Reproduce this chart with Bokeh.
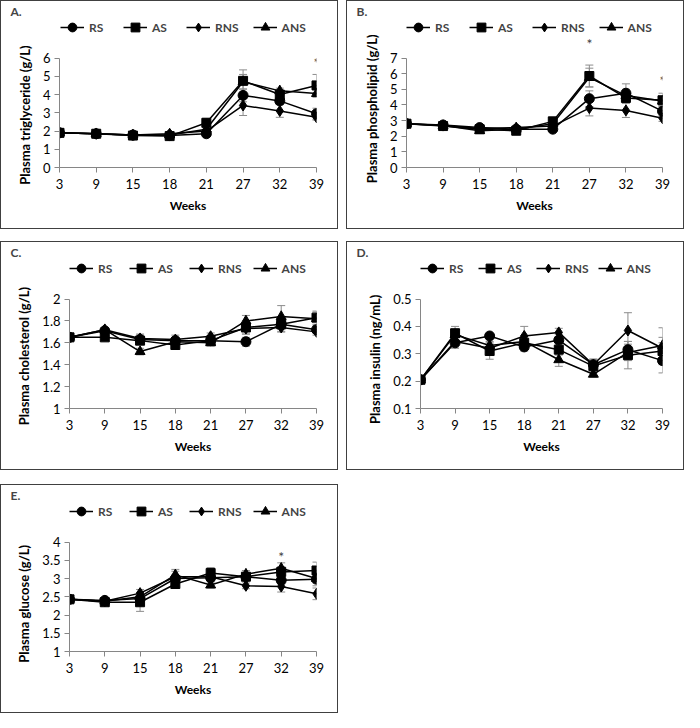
from bokeh.plotting import figure
from bokeh.models import (Range1d, FixedTicker, Whisker, ColumnDataSource, Legend,
                          LegendItem, Label, NumeralTickFormatter, TeeHead, Spacer)
from bokeh.layouts import row, column
from bokeh.embed import file_html
from bokeh.resources import INLINE

weeks = ["3", "9", "15", "18", "21", "27", "32", "39"]
series = ["RS", "AS", "RNS", "ANS"]

# A. Plasma triglyceride (g/L)
tg_RS = [1.90, 1.85, 1.78, 1.75, 1.85, 3.95, 3.65, 2.95]
tg_AS = [1.90, 1.85, 1.75, 1.72, 2.45, 4.75, 4.00, 4.50]
tg_RNS = [1.90, 1.85, 1.78, 1.85, 2.00, 3.40, 3.10, 2.75]
tg_ANS = [1.90, 1.85, 1.78, 1.78, 2.10, 4.70, 4.20, 4.05]
tg_RS_err = [0.05, 0.05, 0.05, 0.05, 0.08, 0.35, 0.20, 0.30]
tg_AS_err = [0.05, 0.05, 0.05, 0.05, 0.25, 0.60, 0.20, 0.60]
tg_RNS_err = [0.05, 0.05, 0.05, 0.05, 0.10, 0.55, 0.35, 0.15]
tg_ANS_err = [0.05, 0.05, 0.05, 0.05, 0.15, 0.40, 0.15, 0.20]

# B. Plasma phospholipid (g/L)
pl_RS = [2.80, 2.72, 2.55, 2.45, 2.45, 4.40, 4.75, 3.60]
pl_AS = [2.80, 2.65, 2.45, 2.35, 2.95, 5.85, 4.45, 4.30]
pl_RNS = [2.80, 2.68, 2.50, 2.55, 2.65, 3.80, 3.65, 3.15]
pl_ANS = [2.80, 2.68, 2.35, 2.45, 2.80, 5.75, 4.60, 4.25]
pl_RS_err = [0.05, 0.05, 0.10, 0.10, 0.10, 0.50, 0.60, 0.30]
pl_AS_err = [0.05, 0.05, 0.10, 0.10, 0.25, 0.70, 0.30, 0.45]
pl_RNS_err = [0.05, 0.05, 0.10, 0.10, 0.10, 0.50, 0.45, 0.20]
pl_ANS_err = [0.05, 0.05, 0.15, 0.10, 0.20, 0.60, 0.40, 0.30]

# C. Plasma cholesterol (g/L)
ch_RS = [1.65, 1.71, 1.63, 1.62, 1.62, 1.61, 1.77, 1.72]
ch_AS = [1.65, 1.65, 1.62, 1.58, 1.62, 1.74, 1.77, 1.83]
ch_RNS = [1.65, 1.72, 1.64, 1.63, 1.66, 1.73, 1.74, 1.70]
ch_ANS = [1.65, 1.72, 1.52, 1.61, 1.60, 1.80, 1.84, 1.82]
ch_RS_err = [0.02, 0.02, 0.04, 0.03, 0.03, 0.04, 0.05, 0.03]
ch_AS_err = [0.02, 0.02, 0.03, 0.02, 0.02, 0.06, 0.07, 0.06]
ch_RNS_err = [0.02, 0.02, 0.04, 0.04, 0.03, 0.05, 0.04, 0.03]
ch_ANS_err = [0.02, 0.02, 0.03, 0.03, 0.03, 0.05, 0.10, 0.06]

# D. Plasma insulin (ng/mL)
in_RS = [0.205, 0.340, 0.365, 0.325, 0.350, 0.260, 0.315, 0.275]
in_AS = [0.205, 0.375, 0.310, 0.340, 0.315, 0.255, 0.295, 0.310]
in_RNS = [0.205, 0.345, 0.320, 0.365, 0.378, 0.260, 0.385, 0.320]
in_ANS = [0.205, 0.370, 0.330, 0.345, 0.278, 0.225, 0.305, 0.330]
in_RS_err = [0.005, 0.020, 0.010, 0.015, 0.020, 0.020, 0.030, 0.045]
in_AS_err = [0.005, 0.025, 0.030, 0.020, 0.020, 0.025, 0.050, 0.050]
in_RNS_err = [0.005, 0.020, 0.015, 0.035, 0.015, 0.020, 0.065, 0.020]
in_ANS_err = [0.005, 0.020, 0.015, 0.020, 0.024, 0.010, 0.030, 0.065]

# E. Plasma glucose (g/L)
gl_RS = [2.43, 2.40, 2.45, 3.00, 3.02, 3.05, 2.95, 2.98]
gl_AS = [2.43, 2.35, 2.35, 2.85, 3.15, 3.05, 3.18, 3.22]
gl_RNS = [2.43, 2.38, 2.60, 3.05, 3.05, 2.80, 2.78, 2.58]
gl_ANS = [2.43, 2.38, 2.50, 3.10, 2.82, 3.12, 3.28, 3.00]
gl_RS_err = [0.03, 0.03, 0.10, 0.10, 0.10, 0.08, 0.10, 0.10]
gl_AS_err = [0.03, 0.03, 0.25, 0.10, 0.15, 0.10, 0.15, 0.23]
gl_RNS_err = [0.03, 0.03, 0.10, 0.15, 0.10, 0.08, 0.15, 0.16]
gl_ANS_err = [0.03, 0.03, 0.12, 0.15, 0.08, 0.10, 0.15, 0.20]

markers = {"RS": ("circle", 10), "AS": ("square", 9), "RNS": ("diamond", 11), "ANS": ("triangle", 10)}
FONT = "Lato"
AX = "#868686"
NBSP = "\u00a0"


def make_panel(tag, ylabel, ymin, ymax, yticks, vals, errs, stars, left, n_nb):
    W = 336
    T = 16            # top border (holds the panel tag)
    tick_top = 55     # px from canvas top to the top y tick
    fh0, right, bottom = 108, 23, 63
    n = len(weeks)
    ppu = fh0 / (ymax - ymin)
    extra = tick_top - T
    fh = fh0 + extra
    fw = W - left - right
    p = figure(frame_width=fw, frame_height=fh, output_backend="svg", toolbar_location=None,
               x_range=Range1d(0, n - 1), y_range=Range1d(ymin, ymin + fh / ppu),
               min_border_left=left, min_border_right=right,
               min_border_top=T, min_border_bottom=bottom)
    p.styles = {"border": "1px solid #404040"}
    p.outline_line_color = None
    p.xgrid.visible = False
    p.ygrid.visible = False
    p.xaxis.ticker = FixedTicker(ticks=list(range(n)))
    p.xaxis.major_label_overrides = {i: w for i, w in enumerate(weeks)}
    p.yaxis.ticker = FixedTicker(ticks=yticks)
    p.yaxis.bounds = (ymin, ymax)
    p.yaxis.formatter = NumeralTickFormatter(format="0.[0]")
    p.xaxis.axis_label = "Weeks"
    # trailing no-break spaces move the y title down, as in the original
    p.yaxis.axis_label = ylabel + NBSP * n_nb
    for ax in p.axis:
        ax.axis_line_color = AX
        ax.major_tick_line_color = AX
        ax.minor_tick_line_color = None
        ax.major_tick_out = 5
        ax.major_tick_in = 0
        ax.major_label_text_font = FONT
        ax.major_label_text_font_size = "13px"
        ax.major_label_text_color = "black"
        ax.axis_label_text_font = FONT
        ax.axis_label_text_font_style = "bold"
        ax.axis_label_text_color = "black"
    p.xaxis.axis_label_text_font_size = "12px"
    p.yaxis.axis_label_text_font_size = "13px"
    p.xaxis.major_label_standoff = 6
    p.yaxis.major_label_standoff = 4
    p.xaxis.axis_label_standoff = 6
    p.yaxis.axis_label_standoff = 7

    # panel tag as title
    p.title.text = tag
    p.title.align = "left"
    p.title.offset = 9 - left
    p.title.standoff = 0
    p.title.text_font = FONT
    p.title.text_font_style = "bold"
    p.title.text_font_size = "12px"

    items = []
    for s in series:
        y = vals[s]
        e = errs[s]
        src = ColumnDataSource(dict(x=list(range(n)), y=y,
                                    lo=[a - b for a, b in zip(y, e)],
                                    hi=[a + b for a, b in zip(y, e)]))
        w = Whisker(source=src, base="x", lower="lo", upper="hi", line_color="#8c8c8c",
                    line_width=1, level="underlay",
                    upper_head=TeeHead(size=8, line_color="#8c8c8c", line_width=1),
                    lower_head=TeeHead(size=8, line_color="#8c8c8c", line_width=1))
        p.add_layout(w)
        r1 = p.line("x", "y", source=src, line_color="black", line_width=1.5)
        mk, sz = markers[s]
        r2 = p.scatter("x", "y", source=src, marker=mk, size=sz, fill_color="black", line_color="black")
        items.append(LegendItem(label=s, renderers=[r1, r2]))

    lx = max(0, 59 - left)
    start = left + lx
    spacing = max(6, 14 - round((start - 59) / 3))
    leg = Legend(items=items, orientation="horizontal",
                 location=(lx, fh0 + 32 - 11),
                 border_line_color=None, background_fill_alpha=0, padding=0, margin=0,
                 spacing=spacing, glyph_width=24, glyph_height=22, label_standoff=5,
                 label_text_font=FONT, label_text_font_style="bold", label_text_font_size="12px")
    p.add_layout(leg, "center")

    for (ix, yv) in stars:
        p.add_layout(Label(x=ix, y=yv, text="*", text_align="center", text_baseline="middle",
                           text_font=FONT, text_font_size="14px", text_color="#404040"))
    return p


def group(prefix):
    g = globals()
    return ({s: g[f"{prefix}_{s}"] for s in series}, {s: g[f"{prefix}_{s}_err"] for s in series})


v, e = group("tg")
pA = make_panel("A.", "Plasma triglyceride (g/L)", 0, 6, [0, 1, 2, 3, 4, 5, 6], v, e,
                [(7, 5.73)], 58, 14)
v, e = group("pl")
pB = make_panel("B.", "Plasma phospholipid (g/L)", 0, 7, [0, 1, 2, 3, 4, 5, 6, 7], v, e,
                [(5, 7.9), (7, 5.55)], 59, 10)
v, e = group("ch")
pC = make_panel("C.", "Plasma cholesterol (g/L)", 1, 2, [1, 1.2, 1.4, 1.6, 1.8, 2], v, e,
                [], 68, 14)
v, e = group("in")
pD = make_panel("D.", "Plasma insulin (ng/mL)", 0.1, 0.5, [0.1, 0.2, 0.3, 0.4, 0.5], v, e,
                [], 73, 16)
v, e = group("gl")
pE = make_panel("E.", "Plasma glucose (g/L)", 1, 4, [1, 1.5, 2, 2.5, 3, 3.5, 4], v, e,
                [(6, 3.6)], 68, 17)

layout = column(row(pA, Spacer(width=8), pB), Spacer(height=12),
                row(pC, Spacer(width=8), pD), Spacer(height=14), pE)

open("out.html", "w").write(file_html(layout, INLINE))
